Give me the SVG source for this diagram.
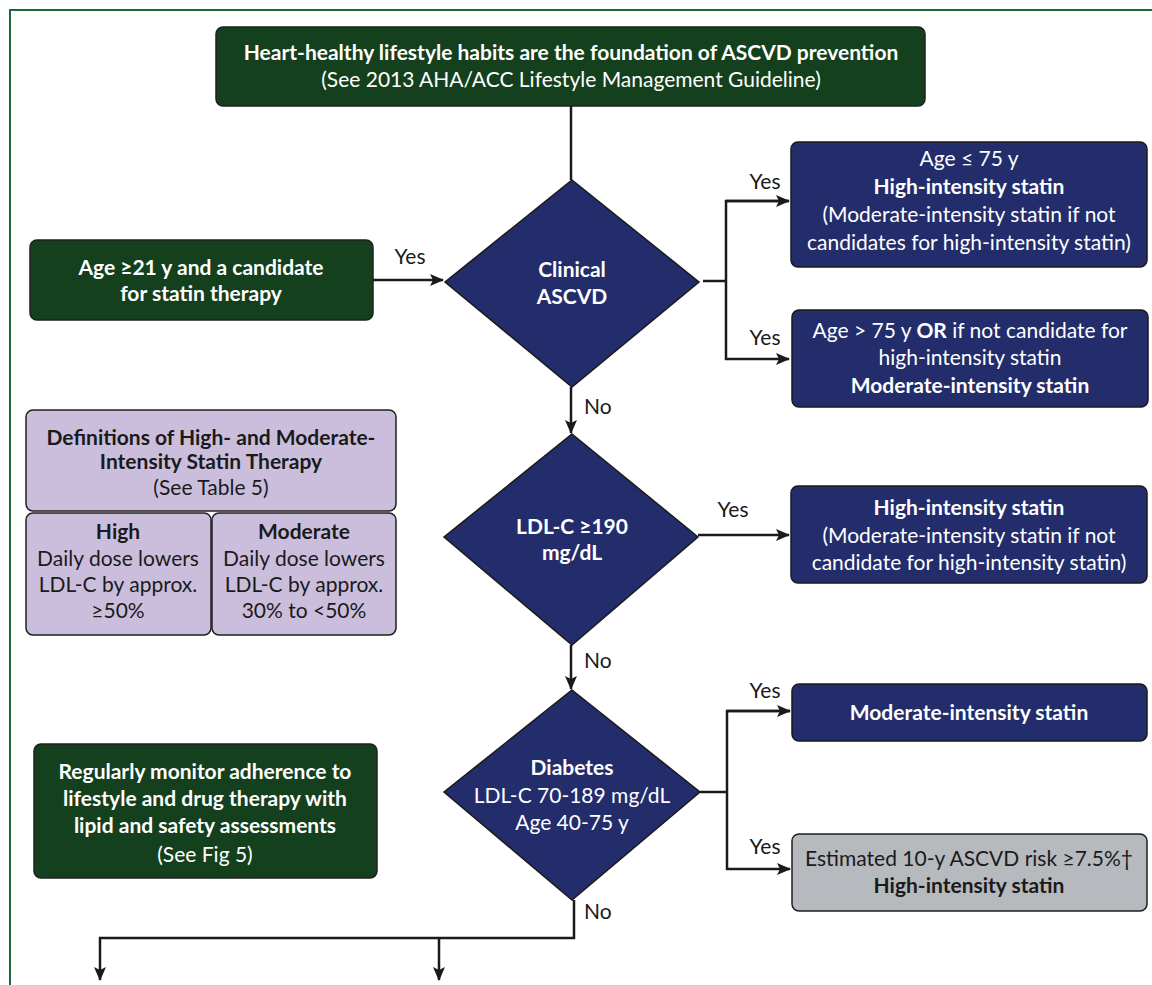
<svg xmlns="http://www.w3.org/2000/svg" width="1152" height="985" viewBox="0 0 1152 985">
<defs>
<marker id="ah" markerWidth="14" markerHeight="12" refX="13" refY="6" orient="auto" markerUnits="userSpaceOnUse">
<path d="M0,0 L14,6 L0,12 L3,6 Z" fill="#1a1a1a"/>
</marker>
<style>
.t{font-family:Lato,"Open Sans","Liberation Sans",sans-serif;font-size:21px;text-anchor:middle}
.w{fill:#ffffff}
.k{fill:#1a1a1a}
.b{font-weight:bold}
.lab{font-family:Lato,"Open Sans","Liberation Sans",sans-serif;font-size:21px;fill:#1a1a1a}
.green{fill:#15401e;stroke:#1f1f1f;stroke-width:1.5}
.navy{fill:#232d6b;stroke:#1a1a1a;stroke-width:1.5}
.lav{fill:#cbbedd;stroke:#1f1f1f;stroke-width:1.5}
.gray{fill:#b6b9be;stroke:#1f1f1f;stroke-width:1.5}
.ln{fill:none;stroke:#1a1a1a;stroke-width:2.5}
</style>
</defs>
<rect width="1152" height="985" fill="#ffffff"/>
<g id="frame"><path d="M1152,10 L10,10 L10,985" fill="none" stroke="#1b6b3a" stroke-width="2"/></g>

<g id="connectors">
<path class="ln" d="M571,106 L571,180"/>
<path class="ln" d="M373,280 L443,280" marker-end="url(#ah)"/>
<path class="ln" d="M703,281 L726,281"/>
<path class="ln" d="M789,201 L726,201 L726,359 L789,359" marker-end="url(#ah)"/>
<path class="ln" d="M726,201 L789,201" marker-end="url(#ah)"/>
<path class="ln" d="M571,387 L571,433" marker-end="url(#ah)"/>
<path class="ln" d="M698,535 L789,535" marker-end="url(#ah)"/>
<path class="ln" d="M571,645 L571,689" marker-end="url(#ah)"/>
<path class="ln" d="M700,792 L727,792"/>
<path class="ln" d="M790,711 L727,711 L727,869 L790,869" marker-end="url(#ah)"/>
<path class="ln" d="M727,711 L790,711" marker-end="url(#ah)"/>
<path class="ln" d="M574,900 L574,938 L100,938 L100,980" marker-end="url(#ah)"/>
<path class="ln" d="M439,938 L439,980" marker-end="url(#ah)"/>
<text class="lab" x="410" y="264" text-anchor="middle">Yes</text>
<text class="lab" x="765" y="189" text-anchor="middle">Yes</text>
<text class="lab" x="765" y="345" text-anchor="middle">Yes</text>
<text class="lab" x="584" y="414">No</text>
<text class="lab" x="733" y="517" text-anchor="middle">Yes</text>
<text class="lab" x="584" y="668">No</text>
<text class="lab" x="765" y="698" text-anchor="middle">Yes</text>
<text class="lab" x="765" y="854" text-anchor="middle">Yes</text>
<text class="lab" x="584" y="919">No</text>
</g>

<g id="top">
<rect class="green" x="216" y="27" width="709" height="79" rx="7"/>
<text class="t w b" x="571" y="60">Heart-healthy lifestyle habits are the foundation of ASCVD prevention</text>
<text class="t w" x="571" y="87">(See 2013 AHA/ACC Lifestyle Management Guideline)</text>
</g>

<g id="age21">
<rect class="green" x="30" y="240" width="343" height="80" rx="7"/>
<text class="t w b" x="201" y="275">Age ≥21 y and a candidate</text>
<text class="t w b" x="201" y="301">for statin therapy</text>
</g>

<g id="d1">
<polygon class="navy" points="572,180 699,282 572,387 445,282"/>
<text class="t w b" x="572" y="277">Clinical</text>
<text class="t w b" x="572" y="304">ASCVD</text>
</g>

<g id="boxA">
<rect class="navy" x="791" y="142" width="356" height="125" rx="7"/>
<text class="t w" x="969" y="166">Age ≤ 75 y</text>
<text class="t w b" x="969" y="194">High-intensity statin</text>
<text class="t w" x="969" y="222">(Moderate-intensity statin if not</text>
<text class="t w" x="969" y="250">candidates for high-intensity statin)</text>
</g>

<g id="boxB">
<rect class="navy" x="792" y="310" width="356" height="97" rx="7"/>
<text class="t w" x="970" y="338">Age &gt; 75 y <tspan class="b">OR</tspan> if not candidate for</text>
<text class="t w" x="970" y="365">high-intensity statin</text>
<text class="t w b" x="970" y="393">Moderate-intensity statin</text>
</g>

<g id="defs-box">
<rect class="lav" x="26" y="410" width="370" height="101" rx="7"/>
<text class="t k b" x="211" y="445">Definitions of High- and Moderate-</text>
<text class="t k b" x="211" y="469">Intensity Statin Therapy</text>
<text class="t k" x="211" y="495">(See Table 5)</text>
</g>
<g id="def-high">
<rect class="lav" x="26" y="513" width="185" height="122" rx="7"/>
<text class="t k b" x="118" y="539">High</text>
<text class="t k" x="118" y="566">Daily dose lowers</text>
<text class="t k" x="118" y="592">LDL-C by approx.</text>
<text class="t k" x="118" y="618">≥50%</text>
</g>
<g id="def-moderate">
<rect class="lav" x="212" y="513" width="184" height="122" rx="7"/>
<text class="t k b" x="304" y="539">Moderate</text>
<text class="t k" x="304" y="566">Daily dose lowers</text>
<text class="t k" x="304" y="592">LDL-C by approx.</text>
<text class="t k" x="304" y="618">30% to &lt;50%</text>
</g>

<g id="d2">
<polygon class="navy" points="572,434 698,537 572,645 444,537"/>
<text class="t w b" x="572" y="534">LDL-C ≥190</text>
<text class="t w b" x="572" y="560">mg/dL</text>
</g>

<g id="boxC">
<rect class="navy" x="791" y="486" width="356" height="97" rx="7"/>
<text class="t w b" x="969" y="515">High-intensity statin</text>
<text class="t w" x="969" y="543">(Moderate-intensity statin if not</text>
<text class="t w" x="969" y="570">candidate for high-intensity statin)</text>
</g>

<g id="d3">
<polygon class="navy" points="572,690 700,792 572,900 444,792"/>
<text class="t w b" x="572" y="775">Diabetes</text>
<text class="t w" x="572" y="803">LDL-C 70-189 mg/dL</text>
<text class="t w" x="572" y="830">Age 40-75 y</text>
</g>

<g id="boxD">
<rect class="navy" x="792" y="684" width="355" height="57" rx="7"/>
<text class="t w b" x="969" y="720">Moderate-intensity statin</text>
</g>

<g id="boxE">
<rect class="gray" x="792" y="834" width="355" height="77" rx="7"/>
<text class="t k" x="969" y="866">Estimated 10-y ASCVD risk ≥7.5%†</text>
<text class="t k b" x="969" y="893">High-intensity statin</text>
</g>

<g id="monitor">
<rect class="green" x="34" y="744" width="343" height="134" rx="7"/>
<text class="t w b" x="205" y="779">Regularly monitor adherence to</text>
<text class="t w b" x="205" y="806">lifestyle and drug therapy with</text>
<text class="t w b" x="205" y="833">lipid and safety assessments</text>
<text class="t w" x="205" y="862">(See Fig 5)</text>
</g>
</svg>
